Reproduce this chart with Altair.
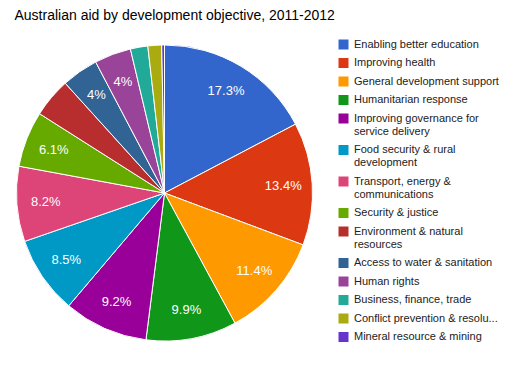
import altair as alt
import pandas as pd

categories = [
    "Enabling better education",
    "Improving health",
    "General development support",
    "Humanitarian response",
    "Improving governance for|service delivery",
    "Food security & rural|development",
    "Transport, energy &|communications",
    "Security & justice",
    "Environment & natural|resources",
    "Access to water & sanitation",
    "Human rights",
    "Business, finance, trade",
    "Conflict prevention & resolution",
    "Mineral resource & mining",
]
values = [17.3, 13.4, 11.4, 9.9, 9.2, 8.5, 8.2, 6.1, 4.3, 4.0, 4.0, 1.9, 1.5, 0.3]
colors = ["#3366cc", "#dc3912", "#ff9900", "#109618", "#990099", "#0099c6",
          "#dd4477", "#66aa00", "#b82e2e", "#316395", "#994499", "#22aa99",
          "#aaaa11", "#6633cc"]

df = pd.DataFrame({"category": categories, "value": values, "order": list(range(len(values)))})

FONT = "Arial, Liberation Sans, sans-serif"
CX, CY, R, LR = 148.5, 160, 148, 119

# square symbol drawn level with the first line of a top-aligned label
SQUARE_LOW = "M -1 0.2 H 1 V 2.2 H -1 Z"

base = alt.Chart(df).encode(
    theta=alt.Theta("value:Q", stack=True),
    order=alt.Order("order:Q"),
)

pie = base.mark_arc(stroke="white", strokeWidth=1).encode(
    x=alt.value(CX), y=alt.value(CY),
    radius=alt.value(R),
    color=alt.Color(
        "category:N",
        scale=alt.Scale(domain=categories, range=colors),
        legend=alt.Legend(
            title=None, orient="none", legendX=322, legendY=0,
            symbolType=SQUARE_LOW, symbolSize=100, symbolStrokeWidth=0,
            labelFont=FONT, labelFontSize=11, labelColor="#222222",
            labelLimit=300, rowPadding=1.5, labelOffset=5,
            labelBaseline="top",
            labelExpr="split(replace(datum.label, 'resolution', 'resolu...'), '|')",
        ),
    ),
)

labels = base.transform_calculate(
    txt="format(datum.value, '.3~g') + '%'"
).transform_calculate(
    lbl="length(datum.txt) * 8 < datum.value / 100 * 2 * PI * 118 ? datum.txt : ''"
).mark_text(
    radius=LR, font=FONT, fontSize=13, color="white"
).encode(
    x=alt.value(CX), y=alt.value(CY),
    text="lbl:N",
)

chart = alt.layer(pie, labels).properties(
    width=489, height=325,
    autosize=alt.AutoSizeParams(type="none"),
    padding={"left": 8, "top": 25, "right": 0, "bottom": 0},
    title=alt.TitleParams(
        "Australian aid by development objective, 2011-2012",
        anchor="start", font=FONT, fontSize=14, fontWeight="normal",
        color="#000000", baseline="alphabetic", offset=-1,
    ),
).configure_view(stroke=None)

chart.save("out.html", embed_options={"renderer": "svg", "actions": False})
